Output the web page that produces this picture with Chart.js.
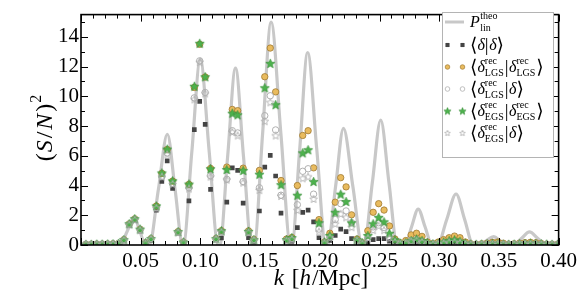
<!DOCTYPE html>
<html><head><meta charset="utf-8">
<script src="https://cdn.jsdelivr.net/npm/chart.js@4.4.1/dist/chart.umd.min.js"></script>
<style>html,body{margin:0;padding:0;background:#fff}#wrap{width:581px;height:291px;position:relative}</style>
</head><body><div id="wrap"><canvas id="c" width="581" height="291"></canvas></div>
<script>
// ---- data ----
const k = [
0.0041,0.0086,0.0132,0.0177,0.0223,0.0268,0.0313,0.0359,0.0404,0.0450,
0.0495,0.0540,0.0586,0.0631,0.0677,0.0722,0.0767,0.0813,0.0858,0.0904,
0.0949,0.0994,0.1040,0.1085,0.1131,0.1176,0.1221,0.1267,0.1312,0.1358,
0.1403,0.1448,0.1494,0.1539,0.1585,0.1630,0.1675,0.1721,0.1766,0.1812,
0.1857,0.1902,0.1948,0.1993,0.2039,0.2084,0.2129,0.2175,0.2220,0.2266,
0.2311,0.2356,0.2402,0.2447,0.2493,0.2538,0.2583,0.2629,0.2674,0.2720,
0.2765,0.2810,0.2856,0.2901,0.2947,0.2992,0.3037,0.3083,0.3128,0.3174,
0.3219,0.3264,0.3310,0.3355,0.3401,0.3446,0.3491,0.3537,0.3582,0.3628,
0.3673,0.3718,0.3764,0.3809,0.3855,0.3900,0.3945,0.3991];

const theoK = [0,0.0328,0.0387,0.0445,0.0493,0.0540,0.0572,0.0648,0.0723,0.0788,0.0852,
0.0856,0.0928,0.0999,0.1074,0.1148,0.1162,0.1228,0.1294,0.1361,0.1428,
0.1450,0.1521,0.1592,0.1674,0.1755,0.1765,0.1832,0.1898,0.1974,0.2050,
0.2065,0.2132,0.2198,0.2277,0.2355,0.2370,0.2440,0.2510,0.2579,0.2648,
0.2712,0.2768,0.2824,0.2882,0.2940,0.2985,0.3063,0.3141,0.3213,0.3285,
0.3330,0.3393,0.3456,0.3513,0.3570,0.3620,0.3688,0.3756,0.3826,0.3895,0.4000];
const theoV = [0,0,0.93,1.85,0.93,0,0,3.73,7.45,3.73,0,
0,6.25,12.5,6.25,0,0,5.95,11.9,5.95,0,
0,7.5,15.0,7.5,0,0,6.48,12.95,6.48,0,
0,3.93,7.85,3.93,0,0,4.2,8.4,4.2,0,
0,1.21,2.42,1.21,0,0,1.72,3.43,1.72,0,
0,0.28,0.56,0.28,0,0,0.44,0.88,0.44,0,0];

const dd = [
0.04,0.04,0.05,0.05,0.06,0.07,0.08,0.30,1.30,1.65,
0.95,0.10,0.30,2.35,4.27,5.66,3.80,0.80,0.15,2.97,
7.76,9.66,8.12,3.74,0.47,0.47,2.88,5.19,5.02,2.82,
0.49,0.20,2.29,5.24,6.03,4.64,2.14,0.30,0.25,1.17,
2.20,2.35,1.56,0.49,0.10,0.30,0.64,1.07,0.90,0.43,
0.20,0.08,0.15,0.36,0.43,0.43,0.25,0.10,0.05,0.05,
0.06,0.08,0.06,0.05,0.04,0.04,0.05,0.06,0.06,0.05,
0.04,0.03,0.03,0.03,0.04,0.04,0.04,0.03,0.03,0.03,
0.04,0.04,0.04,0.04,0.03,0.03,0.03,0.03];

const lgsRec = [
0.05,0.05,0.06,0.06,0.07,0.08,0.10,0.36,1.42,1.76,
1.06,0.15,0.43,2.62,4.82,6.42,4.30,0.90,0.20,4.08,
10.6,13.5,11.3,5.15,0.43,0.96,5.24,9.12,9.04,5.17,
0.95,0.38,5.02,11.32,13.25,10.30,4.34,0.40,0.50,4.00,
7.37,7.69,5.19,1.71,0.20,0.79,2.88,4.53,3.91,2.03,
0.40,0.15,0.96,2.20,2.78,2.35,1.28,0.40,0.15,0.30,
0.68,0.79,0.58,0.20,0.10,0.20,0.36,0.49,0.60,0.49,
0.20,0.08,0.05,0.08,0.12,0.18,0.20,0.12,0.06,0.08,
0.12,0.16,0.18,0.15,0.10,0.06,0.05,0.05];

const lgsCross = [
0.05,0.05,0.05,0.06,0.06,0.07,0.09,0.33,1.38,1.72,
1.03,0.13,0.40,2.50,4.60,6.20,4.15,0.85,0.18,3.85,
9.90,12.39,10.26,4.66,0.40,0.90,4.42,7.69,7.54,4.27,
0.85,0.33,3.85,8.70,10.04,7.74,3.35,0.30,0.40,2.71,
4.96,5.13,3.42,1.07,0.15,0.55,1.71,2.78,2.29,1.50,
0.30,0.10,0.50,1.22,1.50,1.17,0.55,0.25,0.10,0.15,
0.30,0.35,0.25,0.10,0.06,0.08,0.15,0.22,0.25,0.18,
0.08,0.05,0.04,0.05,0.06,0.07,0.06,0.04,0.04,0.05,
0.06,0.07,0.08,0.07,0.06,0.05,0.04,0.04];

const egsRec = [
0.05,0.05,0.06,0.06,0.07,0.08,0.10,0.36,1.43,1.77,
1.07,0.15,0.43,2.63,4.85,6.45,4.32,0.90,0.20,4.10,
10.68,13.57,11.32,5.13,0.43,0.96,5.08,8.87,8.76,5.02,
0.92,0.36,4.76,10.58,12.22,9.44,4.06,0.36,0.50,3.35,
6.20,6.41,4.27,1.50,0.20,0.64,2.20,3.42,2.93,1.50,
0.36,0.15,0.64,1.43,1.86,1.56,0.79,0.36,0.12,0.15,
0.30,0.40,0.30,0.15,0.08,0.10,0.20,0.30,0.35,0.25,
0.12,0.06,0.05,0.06,0.08,0.10,0.08,0.05,0.05,0.06,
0.08,0.10,0.12,0.10,0.08,0.06,0.05,0.05];

const egsCross = [
0.05,0.05,0.05,0.06,0.06,0.07,0.09,0.33,1.38,1.70,
1.00,0.12,0.40,2.50,4.60,6.10,4.10,0.85,0.18,3.80,
9.80,12.30,10.20,4.60,0.40,0.88,4.40,7.60,7.37,4.20,
0.85,0.33,3.70,8.33,9.60,7.37,3.30,0.30,0.40,2.35,
4.49,4.60,3.10,0.90,0.15,0.50,1.43,2.10,1.86,1.20,
0.30,0.10,0.45,1.00,1.30,1.00,0.45,0.20,0.08,0.12,
0.25,0.30,0.20,0.08,0.05,0.07,0.12,0.18,0.20,0.15,
0.07,0.05,0.04,0.05,0.06,0.06,0.05,0.04,0.04,0.05,
0.05,0.06,0.07,0.06,0.05,0.05,0.04,0.04];

const xTicks = [0.05,0.10,0.15,0.20,0.25,0.30,0.35,0.40];
const yTicks = [0,2,4,6,8,10,12,14];

// ---- styling ----
const SERIF = "'Liberation Serif','DejaVu Serif',serif";
const C_LINE = '#c8c8c8', C_SQ = '#444444', C_GOLD = '#e9bb5e', C_GOLD_E = '#a07a32',
      C_OPEN = '#b0b0b0', C_GREEN = '#4cb24c', C_GREEN_E = '#3a8f3a';

function starCanvas(R, fill, stroke, lw, ratio){
  const s = Math.ceil(2*R + 2*lw + 2);
  const c = document.createElement('canvas'); c.width = s; c.height = s;
  const g = c.getContext('2d'); const cx = s/2, cy = s/2 + R*0.1;
  g.beginPath();
  for (let j = 0; j < 10; j++){
    const r = j % 2 === 0 ? R : R*ratio; const a = -Math.PI/2 + j*Math.PI/5;
    const px = cx + r*Math.cos(a), py = cy + r*Math.sin(a);
    if (j) g.lineTo(px, py); else g.moveTo(px, py);
  }
  g.closePath();
  if (fill){ g.fillStyle = fill; g.fill(); }
  if (stroke){ g.strokeStyle = stroke; g.lineWidth = lw; g.stroke(); }
  return c;
}
const greenStar = starCanvas(4.8, C_GREEN, C_GREEN_E, 0.7, 0.45);
const openStar = starCanvas(4.0, null, C_OPEN, 0.9, 0.45);
const greenStarL = starCanvas(3.8, C_GREEN, C_GREEN_E, 0.6, 0.45);
const openStarL = starCanvas(3.0, null, C_OPEN, 0.8, 0.45);

const pts = arr => k.map((x, i) => ({x, y: arr[i]}));

function segFont(s){ return (s.it ? 'italic ' : '') + s.fs + 'px ' + SERIF; }
function segWidth(ctx, s){
  if (s.st){ return Math.max(...s.st.map(q => { ctx.font = segFont(q); return ctx.measureText(q.t).width; })) + (s.gap || 0); }
  ctx.font = segFont(s); return ctx.measureText(s.t).width + (s.gap || 0);
}
function drawRich(ctx, segs, x, y, center){
  const w = segs.reduce((a, s) => a + segWidth(ctx, s), 0);
  let cx = center ? x - w/2 : x;
  ctx.textBaseline = 'alphabetic'; ctx.textAlign = 'left'; ctx.fillStyle = '#000';
  for (const s of segs){
    if (s.st){ for (const q of s.st){ ctx.font = segFont(q); ctx.fillText(q.t, cx, y + (q.dy || 0)); } }
    else { ctx.font = segFont(s); ctx.fillText(s.t, cx, y + (s.dy || 0)); }
    cx += segWidth(ctx, s);
  }
}
const D = {t:'δ', it:1, fs:16};
const stk = (sup, sub) => ({st:[{t:sup, fs:10, dy:-8}, {t:sub, fs:10, dy:4}], gap:1});
const LB = {t:'⟨', fs:19, dy:1}, RB = {t:'⟩', fs:19, dy:1}, BAR = {t:'|', fs:19, dy:1, gap:0.5};
const legendRows = [
  {kind:'line', segs:[{t:'P', it:1, fs:16, gap:0.5}, stk('theo','lin')]},
  {kind:'sq', segs:[LB, D, BAR, D, RB]},
  {kind:'gold', segs:[LB, D, stk('rec','LGS'), BAR, D, stk('rec','LGS'), RB]},
  {kind:'oc', segs:[LB, D, stk('rec','LGS'), BAR, D, RB]},
  {kind:'gs', segs:[LB, D, stk('rec','EGS'), BAR, D, stk('rec','EGS'), RB]},
  {kind:'os', segs:[LB, D, stk('rec','EGS'), BAR, D, RB]}
];

const framePlugin = {
  id: 'frame',
  afterDatasetsDraw(chart){
    const {ctx, chartArea: a, scales: {x, y}} = chart;
    ctx.save();
    ctx.strokeStyle = '#000'; ctx.lineWidth = 1;
    ctx.beginPath();
    for (let j = 0; j <= 40; j++){
      const px = Math.round(x.getPixelForValue(j/100)) + 0.5; const L = j % 5 === 0 ? 7 : 4;
      ctx.moveTo(px, a.bottom); ctx.lineTo(px, a.bottom - L);
      ctx.moveTo(px, a.top); ctx.lineTo(px, a.top + L);
    }
    for (let j = 0; j <= 15; j++){
      const py = Math.round(y.getPixelForValue(j)) + 0.5; const L = j % 2 === 0 ? 7 : 4;
      ctx.moveTo(a.left, py); ctx.lineTo(a.left + L, py);
      ctx.moveTo(a.right, py); ctx.lineTo(a.right - L, py);
    }
    ctx.stroke();
    ctx.lineWidth = 1.6;
    ctx.strokeRect(a.left, a.top, a.right - a.left, a.bottom - a.top);
    ctx.restore();
  },
  afterDraw(chart){
    const ctx = chart.ctx;
    ctx.save();
    // axis titles
    drawRich(ctx, [{t:'k', it:1, fs:23, gap:2}, {t:' [', fs:23}, {t:'h', it:1, fs:23, gap:1}, {t:'/Mpc]', fs:23}], 321, 285, true);
    ctx.save(); ctx.translate(44, 128); ctx.rotate(-Math.PI/2);
    drawRich(ctx, [{t:'(', fs:24, gap:1}, {t:'S', it:1, fs:24, gap:2}, {t:'/', fs:24, gap:2}, {t:'N', it:1, fs:24, gap:2}, {t:')', fs:24, gap:1}, {t:'2', fs:16, dy:-11}], 0, 8, true);
    ctx.restore();
    // legend
    const bx = 442, by = 12, bw = 111, bh = 145;
    ctx.fillStyle = '#fff'; ctx.fillRect(bx, by, bw, bh);
    ctx.strokeStyle = '#b4b4b4'; ctx.lineWidth = 1; ctx.strokeRect(bx + 0.5, by + 0.5, bw, bh);
    const rowsY = [22, 45, 67, 89, 111, 133];
    const mx = [447.5, 462.5];
    legendRows.forEach((r, i) => {
      const yy = rowsY[i];
      if (r.kind === 'line'){
        ctx.strokeStyle = C_LINE; ctx.lineWidth = 3; ctx.beginPath(); ctx.moveTo(445, yy); ctx.lineTo(464, yy); ctx.stroke();
      } else {
        mx.forEach(xx => {
          if (r.kind === 'sq'){ ctx.fillStyle = C_SQ; Chart.helpers.drawPoint(ctx, {pointStyle:'rect', radius:2.9, borderWidth:0, rotation:0}, xx, yy); }
          if (r.kind === 'gold'){ ctx.fillStyle = C_GOLD; ctx.strokeStyle = C_GOLD_E; ctx.lineWidth = 0.7; Chart.helpers.drawPoint(ctx, {pointStyle:'circle', radius:2.3, borderWidth:0.7, rotation:0}, xx, yy); }
          if (r.kind === 'oc'){ ctx.fillStyle = 'rgba(0,0,0,0)'; ctx.strokeStyle = C_OPEN; ctx.lineWidth = 0.8; Chart.helpers.drawPoint(ctx, {pointStyle:'circle', radius:2.3, borderWidth:0.8, rotation:0}, xx, yy); }
          if (r.kind === 'gs'){ Chart.helpers.drawPoint(ctx, {pointStyle:greenStarL, radius:4, rotation:0}, xx, yy); }
          if (r.kind === 'os'){ Chart.helpers.drawPoint(ctx, {pointStyle:openStarL, radius:3, rotation:0}, xx, yy); }
        });
      }
      drawRich(ctx, r.segs, 470, yy + 5, false);
    });
    ctx.restore();
  }
};

const common = {showLine:false, clip:0};
new Chart(document.getElementById('c'), {
  type: 'scatter',
  data: {
    datasets: [
      {label:'P_lin^theo', type:'line', data: theoK.map((x, i) => ({x, y: theoV[i]})), showLine:true,
       borderColor:C_LINE, borderWidth:3.2, pointRadius:0, cubicInterpolationMode:'monotone', fill:false, order:6, clip:0},
      {label:'<δ|δ>', data: pts(dd), pointStyle:'rect', pointRadius:3.3, backgroundColor:C_SQ, borderWidth:0, order:5, ...common},
      {label:'<δLGS|δLGS>', data: pts(lgsRec), pointStyle:'circle', pointRadius:3.2, backgroundColor:C_GOLD, borderColor:C_GOLD_E, borderWidth:0.8, order:4, ...common},
      {label:'<δLGS|δ>', data: pts(lgsCross), pointStyle:'circle', pointRadius:3.2, backgroundColor:'rgba(255,255,255,0)', borderColor:C_OPEN, borderWidth:1, order:3, ...common},
      {label:'<δEGS|δEGS>', data: pts(egsRec), pointStyle:greenStar, pointRadius:5, order:2, ...common},
      {label:'<δEGS|δ>', data: pts(egsCross), pointStyle:openStar, pointRadius:4, order:1, ...common}
    ]
  },
  options: {
    responsive:false, animation:false, devicePixelRatio:1,
    layout: {padding: {top:3, right:21, left:0, bottom:0}},
    plugins: {legend:{display:false}, tooltip:{enabled:false}},
    scales: {
      x: {type:'linear', min:0, max:0.4,
          grid:{display:false, drawTicks:false}, border:{display:false},
          afterFit: s => { s.height = 46; },
          ticks:{stepSize:0.05, padding:4, color:'#000', font:{family:SERIF, size:21}, maxRotation:0, autoSkip:false,
                 callback: v => { const m = xTicks.find(t => Math.abs(t - v) < 1e-6); return m !== undefined ? m.toFixed(2) : ''; }}},
      y: {type:'linear', min:0, max:15.5,
          grid:{display:false, drawTicks:false}, border:{display:false},
          afterFit: s => { s.width = 81; },
          ticks:{stepSize:1, padding:2, color:'#000', font:{family:SERIF, size:21}, autoSkip:false,
                 callback: v => { const m = yTicks.find(t => Math.abs(t - v) < 1e-6); return m !== undefined ? String(m) : ''; }}}
    }
  },
  plugins: [framePlugin]
});
</script>
</body></html>
